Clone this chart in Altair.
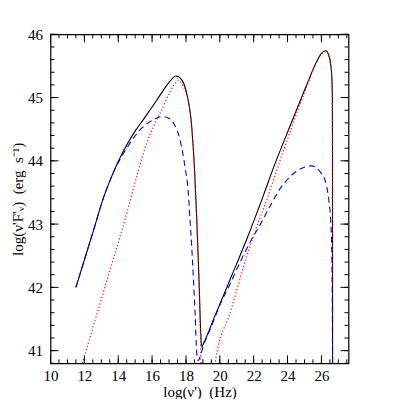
import altair as alt
import pandas as pd

# ---- data (log nu', log nu'F'nu) ----
x_total = [11.5, 12.1, 12.63, 13.08, 13.5, 14.0, 14.5, 15.0, 15.5, 16.0, 16.5, 17.0, 17.41,
           17.75, 18.04, 18.34, 18.5, 18.64, 18.78, 18.87, 18.93, 19.05, 19.62, 20.6, 21.59,
           22.57, 23.21, 24.15, 25.13, 25.72, 26.0, 26.25, 26.45, 26.55, 26.61, 26.645, 26.655, 26.66]
y_total = [42.0, 42.52, 42.98, 43.38, 43.68, 43.99, 44.25, 44.47, 44.66, 44.85, 45.05, 45.24, 45.34,
           45.28, 45.07, 44.54, 43.9, 43.07, 42.05, 41.3, 41.06, 41.12, 41.49, 42.12, 42.76,
           43.45, 43.92, 44.55, 45.2, 45.57, 45.7, 45.74, 45.66, 45.52, 45.35, 45.0, 44.3, 40.0]

x_red = [11.88, 12.5, 13.3, 14.0, 14.4, 15.09, 15.68, 16.1, 16.47, 17.06, 17.35, 17.55, 17.85,
         18.04, 18.34, 18.5, 18.64, 18.78, 18.86, 18.92, 19.3, 19.68, 19.75, 20.6, 21.59, 22.18,
         22.77, 23.07, 24.34, 25.13, 25.72, 26.0, 26.25, 26.45, 26.55, 26.61, 26.645, 26.655, 26.66]
y_red = [40.8, 41.36, 42.08, 42.71, 43.07, 43.75, 44.28, 44.55, 44.75, 45.09, 45.22, 45.27, 45.17,
         45.05, 44.54, 43.9, 43.07, 42.05, 41.2, 40.5, 39.6, 40.5, 40.85, 41.59, 42.49, 42.96,
         43.38, 43.62, 44.6, 45.17, 45.56, 45.69, 45.73, 45.65, 45.51, 45.34, 45.0, 44.3, 40.0]

x_blue = [11.5, 12.1, 12.63, 13.08, 13.5, 14.0, 14.5, 15.29, 15.88, 16.6, 17.0, 17.3, 17.65,
          17.94, 18.14, 18.24, 18.34, 18.54, 18.64, 18.73, 18.85, 19.0, 19.5, 20.0, 20.6, 21.2,
          21.8, 22.4, 23.0, 23.56, 24.15, 24.74, 25.39, 25.92, 26.31, 26.45, 26.55, 26.61,
          26.64, 26.655, 26.66]
y_blue = [42.0, 42.52, 42.98, 43.38, 43.68, 43.97, 44.2, 44.49, 44.62, 44.7, 44.67, 44.58, 44.33,
          43.91, 43.49, 43.07, 42.64, 41.59, 40.96, 40.84, 40.92, 41.05, 41.38, 41.72, 42.05, 42.4,
          42.72, 43.0, 43.3, 43.56, 43.75, 43.87, 43.92, 43.83, 43.6, 43.35, 43.05, 42.6,
          41.8, 41.0, 40.0]

x_major = [10, 12, 14, 16, 18, 20, 22, 24, 26]
y_major = [41, 42, 43, 44, 45, 46]
x_minor = [v / 2 for v in range(20, 56)]
y_minor = [round(40.8 + 0.2 * i, 1) for i in range(27)]

x_title = "log(ν')\u2002(Hz)"
y_title = "log(ν'F'ᵥ)\u2002(erg\u2002s⁻¹)"

W, H = 298, 329
FONT = "Liberation Serif"
xs = alt.Scale(domain=[10, 27.6], nice=False, zero=False)
ys = alt.Scale(domain=[40.8, 46], nice=False, zero=False)

x_axis = alt.Axis(values=x_major, ticks=False, domain=False, grid=False, labelFlush=False,
                  labelFont=FONT, labelFontSize=15, labelColor="black", labelPadding=5,
                  title=x_title, titleFont=FONT, titleFontSize=15,
                  titleFontWeight="normal", titleColor="black", titlePadding=1)
y_axis = alt.Axis(values=y_major, ticks=False, domain=False, grid=False, labelFlush=False,
                  labelFont=FONT, labelFontSize=15, labelColor="black", labelPadding=8,
                  title=y_title, titleFont=FONT, titleFontSize=15,
                  titleFontWeight="normal", titleColor="black", titlePadding=2)

df_t = pd.DataFrame({"x": x_total, "y": y_total})
df_r = pd.DataFrame({"x": x_red, "y": y_red})
df_b = pd.DataFrame({"x": x_blue, "y": y_blue})

X = alt.X("x:Q", scale=xs, axis=x_axis)
Y = alt.Y("y:Q", scale=ys, axis=y_axis)

black = alt.Chart(df_t).mark_line(color="black", strokeWidth=1.1, clip=True,
                                   interpolate="monotone").encode(x=X, y=Y)
red = alt.Chart(df_r).mark_line(color="#ff0000", strokeWidth=1.2, strokeDash=[1.2, 2.2],
                                 clip=True, interpolate="monotone").encode(x=X, y=Y)
blue = alt.Chart(df_b).mark_line(color="#0000ff", strokeWidth=1.1, strokeDash=[6, 4],
                                  clip=True, interpolate="monotone").encode(x=X, y=Y)


def xticks(vals, length):
    d = pd.DataFrame({"x": vals})
    base = alt.Chart(d).mark_rule(color="black", strokeWidth=1)
    bottom = base.encode(x=X, y=alt.value(H), y2=alt.value(H - length))
    top = base.encode(x=X, y=alt.value(0), y2=alt.value(length))
    return [bottom, top]


def yticks(vals, length):
    d = pd.DataFrame({"y": vals})
    base = alt.Chart(d).mark_rule(color="black", strokeWidth=1)
    left = base.encode(y=Y, x=alt.value(0), x2=alt.value(length))
    right = base.encode(y=Y, x=alt.value(W), x2=alt.value(W - length))
    return [left, right]


layers = [black] + xticks(x_major, 8) + xticks(x_minor, 4) + yticks(y_major, 8) + \
    yticks(y_minor, 4) + [red, blue]

chart = alt.layer(*layers).properties(
    width=W, height=H,
    autosize=alt.AutoSizeParams(type="none"),
    padding={"left": 42.5, "top": 26.3, "right": 48, "bottom": 36},
).configure_view(stroke="black", strokeWidth=1.2)

chart.save("out.html", embed_options={"renderer": "svg", "actions": False})
